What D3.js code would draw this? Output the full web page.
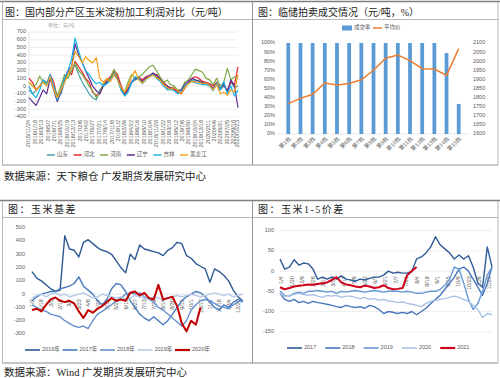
<!DOCTYPE html>
<html>
<head>
<meta charset="utf-8">
<title>玉米报告图表</title>
<script src="https://d3js.org/d3.v7.min.js"></script>
<style>
  body { margin: 0; background: #fff; }
  text { font-family: "Liberation Sans", "Noto Sans CJK SC", sans-serif; }
  .ttl { font-family: "Liberation Serif", "Noto Sans CJK SC", serif; fill: #222; }
  .tick { font-size: 5.5px; fill: #595959; }
</style>
</head>
<body>
<div id="chart"></div>
<script>
// ---------- top-left: 淀粉加工利润 ----------
const profitTicks = ["2015/11/24","2016/1/18","2016/3/13","2016/5/7","2016/7/1","2016/8/25","2016/10/19",
  "2016/12/13","2017/2/6","2017/4/2","2017/5/27","2017/7/21","2017/9/14","2017/11/8","2018/1/2","2018/2/26",
  "2018/4/22","2018/6/16","2018/8/10","2018/10/4","2018/11/28","2019/1/22","2019/3/18","2019/5/12","2019/7/6",
  "2019/8/30","2019/10/24","2019/12/18","2020/2/11","2020/4/6","2020/5/31","2020/7/25","2020/9/18","2020/10/23"];
const profitYTicks = [700,600,500,400,300,200,100,0,-100,-200,-300,-400];
const shandong = [-50,-100,-60,0,80,50,100,0,-150,-100,50,150,200,280,150,50,-20,-100,-150,-180,-50,0,50,100,180,100,-50,-120,-50,50,80,100,50,100,120,150,130,80,20,-30,-50,-30,-60,-80,0,30,80,60,80,50,30,0,-50,20,-50,0,-50,50,-20,0];
const hebei    = [100,50,-50,0,50,30,150,50,-150,-50,100,200,150,320,250,180,100,50,-80,-120,-100,20,80,120,200,150,0,-100,-30,60,100,120,80,120,140,160,150,100,50,0,-20,-40,-80,-100,-30,50,100,120,100,60,50,30,0,50,-30,30,-60,60,20,250];
const henan    = [50,0,20,130,50,30,100,0,-120,0,150,100,200,300,200,150,80,0,-60,-150,-80,30,50,100,220,100,-50,-80,50,150,100,120,150,200,250,270,200,120,50,80,20,0,-50,-50,50,80,150,220,200,180,100,80,20,100,0,50,230,80,120,100];
const liaoning = [-150,-200,-250,-150,-50,-100,100,-50,-200,-80,80,200,250,550,400,300,200,100,0,-60,-100,0,50,80,150,100,-20,-100,-50,50,100,100,60,110,130,170,140,90,30,0,-30,-20,-70,-50,20,60,100,80,60,40,40,20,-30,30,-40,20,-80,80,0,-280];
const jilin    = [0,-100,-150,-50,80,20,150,0,-180,-50,100,200,350,620,450,300,200,150,80,30,50,0,30,80,150,80,-50,-130,-80,50,120,100,30,80,120,150,100,60,0,-50,-40,-60,-100,-80,0,40,60,40,30,20,20,0,-60,40,-50,60,-100,0,-130,-50];
const heilong  = [50,0,-50,0,50,0,120,-50,-150,-50,50,150,250,450,380,300,380,330,300,370,100,50,100,60,150,80,-20,-80,0,120,200,80,40,90,120,140,110,80,20,-20,-40,-20,-60,-100,-20,30,60,50,50,30,40,10,-50,20,-100,-80,-120,-50,-80,150];
const profitNames = ["山东","河北","河南","辽宁","吉林","黑龙江"];

// ---------- top-right: 临储拍卖 ----------
const batches = ["第1批","第2批","第3批","第4批","第5批","第6批","第7批","第8批","第9批","第10批","第11批","第12批","第13批","第14批","第15批"];
const dealRate = [100,100,100,100,100,100,100,100,100,100,100,100,100,89,33];
const avgPrice = [1767,1796,1818,1880,1869,1878,1898,1950,2016,2034,2003,1959,1957,1922,2069];
const rateTicks = [0,10,20,30,40,50,60,70,80,90,100];
const priceTicks = [1600,1650,1700,1750,1800,1850,1900,1950,2000,2050,2100];

// ---------- bottom-left: 玉米基差 ----------
const basisTicks = ["1/2","1/18","2/3","2/19","3/7","3/23","4/8","4/24","5/10","5/26","6/11","6/27",
  "7/13","7/29","8/14","8/30","9/15","10/1","10/17","11/2","11/18","12/4","12/20"];
const basisYTicks = [500,400,300,200,100,0,-100,-200,-300];
const basis2016 = [170,120,100,70,40,20,30,440,340,330,280,390,410,380,350,330,320,300,250,200,160,300,260,370,340,330,320,310,290,330,350,390,380,290,270,230,210,190,90,190,170,140,100,30,-20,-50];
const basis2017 = [-50,-20,0,10,20,20,40,50,60,80,130,60,30,0,-50,-80,-40,40,80,70,20,-50,-100,-150,-180,-200,-170,-200,-230,-200,-150,-100,-50,-20,0,20,10,-20,-60,-100,-120,-80,-100,-60,-40,-60];
const basis2018 = [-80,-100,-120,-130,-150,-160,-170,-200,-220,-240,-250,-240,-260,-200,-150,-130,-100,-80,-50,-30,0,10,0,10,-20,-40,-60,-100,-120,-150,-180,-210,-240,-200,-120,-80,-50,-40,-50,-70,-90,-100,-110,-80,-60,-40];
const basis2019 = [-30,-10,0,-20,0,10,-10,0,-20,-10,0,10,-10,-30,-20,0,-10,-20,-30,-20,-40,-30,-10,-20,-30,-40,-20,-30,-40,-30,-20,-10,-20,-10,0,-10,-20,-10,0,10,0,-10,0,-20,-10,0];
const basis2020 = [-120,-110,-130,-80,-40,-25,-50,-60,-50,-70,-130,-180,-120,-140,-110,-90,-60,-30,-50,-40,-50,10,20,-10,10,-30,-40,70,-40,-30,-20,-90,-220,-280,-200,-230,-100];
const basisNames = ["2016年","2017年","2018年","2019年","2020年"];

// ---------- bottom-right: 玉米1-5价差 ----------
const spreadTicks = ["1/4","1/20","2/9","2/28","3/14","3/30","4/17","5/6","5/22","6/7","6/21",
  "7/7","7/21","8/4","8/18","9/1","9/15","10/9","10/23","11/6","11/20"];
const spreadYTicks = [100,50,0,-50,-100,-150];
const spread2017 = [30,5,10,28,15,20,18,5,-20,-15,-20,-15,-20,-12,-20,-22,-25,-20,-22,-18,-15,-15,-10,0,-5,-3,-5,-5,0,30,35,45,60,85,65,55,45,30,40,30,38,10,-30,-40,60,10];
const spread2018 = [-55,-70,-75,-70,-78,-75,-80,-75,-78,-80,-82,-85,-88,-90,-85,-88,-90,-88,-92,-85,-88,-95,-105,-100,-102,-105,-102,-105,-100,-108,-100,-92,-80,-70,-60,-45,-30,-15,5,10,0,-20,-40,-60,-30,10];
const spread2019 = [-50,-60,-62,-55,-52,-55,-50,-50,-48,-50,-52,-50,-55,-50,-52,-50,-48,-50,-52,-50,-48,-50,-52,-50,-50,-50,-52,-50,-52,-55,-55,-52,-50,-50,-45,-35,-20,10,5,-30,-70,-95,-80,-50,-10,10];
const spread2020 = [-55,-62,-60,-58,-55,-58,-60,-58,-62,-65,-60,-62,-60,-65,-62,-62,-65,-68,-65,-70,-68,-72,-70,-74,-75,-78,-76,-80,-82,-85,-88,-80,-75,-72,-70,-68,-65,-62,-65,-70,-75,-85,-95,-115,-105,-108];
const spread2021 = [-40,-45,-42,-38,-36,-35,-33,-34,-32,-30,-28,-22,-15,-28,-33,-35,-38,-40,-36,-38,-42,-40,-35,-42,-45,-44,-42,-10,0,10];
const spreadNames = ["2017","2018","2019","2020","2021"];

// ================= drawing =================
const svg = d3.select("#chart").append("svg")
  .attr("width", 500).attr("height", 378);
svg.append("rect").attr("width", 500).attr("height", 378).attr("fill", "#fff");

// panel frames
function hline(y, x1, x2, color, w) {
  svg.append("line").attr("x1", x1).attr("x2", x2).attr("y1", y).attr("y2", y)
    .attr("stroke", color).attr("stroke-width", w);
}
function vline(x, y1, y2, color, w) {
  svg.append("line").attr("x1", x).attr("x2", x).attr("y1", y1).attr("y2", y2)
    .attr("stroke", color).attr("stroke-width", w);
}
hline(1.5, 0, 500, "#7f7f7f", 1.6);
hline(19.5, 2, 498, "#a6a6a6", 0.8);
hline(165, 2, 498, "#8c8c8c", 0.9);
vline(2.5, 1.5, 165, "#a6a6a6", 0.8);
vline(252.5, 1.5, 165, "#8c8c8c", 0.9);
vline(498, 1.5, 165, "#a6a6a6", 0.8);

hline(200.5, 0, 500, "#7f7f7f", 1.6);
hline(217.5, 2, 498, "#a6a6a6", 0.8);
hline(363, 2, 498, "#7f7f7f", 0.9);
vline(2.5, 200.5, 363, "#a6a6a6", 0.8);
vline(252.5, 200.5, 363, "#8c8c8c", 0.9);
vline(498, 200.5, 363, "#a6a6a6", 0.8);

// titles and sources
svg.append("text").attr("class", "ttl").attr("x", 5).attr("y", 15.5).attr("font-size", 10)
  .text("图：国内部分产区玉米淀粉加工利润对比（元/吨）");
svg.append("text").attr("class", "ttl").attr("x", 258).attr("y", 15.5).attr("font-size", 10)
  .text("图：临储拍卖成交情况（元/吨，%）");
svg.append("text").attr("class", "ttl").attr("x", 4).attr("y", 180).attr("font-size", 10.5)
  .text("数据来源：天下粮仓 广发期货发展研究中心");
svg.append("text").attr("class", "ttl").attr("x", 8).attr("y", 213).attr("font-size", 10)
  .attr("letter-spacing", 1.5).text("图：玉米基差");
svg.append("text").attr("class", "ttl").attr("x", 258).attr("y", 213).attr("font-size", 10)
  .attr("letter-spacing", 1.5).text("图：玉米1-5价差");
svg.append("text").attr("class", "ttl").attr("x", 4).attr("y", 376).attr("font-size", 10.5)
  .text("数据来源：Wind 广发期货发展研究中心");

// helper: y tick labels (+ optional grid)
function yLabels(y, values, x, anchor, fmt, grid) {
  values.forEach(v => {
    if (grid) hline(y(v), grid[0], grid[1], "#e3e3e3", 0.6);
    svg.append("text").attr("class", "tick").attr("x", x).attr("y", y(v))
      .attr("text-anchor", anchor).attr("dominant-baseline", "middle").text(fmt(v));
  });
}
// helper: rotated x labels
function xLabels(positions, labels, y, angle) {
  labels.forEach((t, i) => {
    svg.append("text").attr("class", "tick")
      .attr("x", positions[i]).attr("y", y)
      .attr("text-anchor", "end").attr("dominant-baseline", "middle")
      .attr("transform", `rotate(${angle},${positions[i]},${y})`)
      .text(t);
  });
}
function legendItem(x, y, color, label, w, sw) {
  svg.append("line").attr("x1", x).attr("x2", x + w).attr("y1", y).attr("y2", y)
    .attr("stroke", color).attr("stroke-width", sw);
  svg.append("text").attr("class", "tick").attr("x", x + w + 2).attr("y", y)
    .attr("dominant-baseline", "middle").text(label);
}

// ---------- top-left chart ----------
{
  const parse = d3.timeParse("%Y/%m/%d");
  const start = parse("2015/11/24");
  const x = d3.scaleTime().domain([start, parse("2020/10/24")]).range([29, 238]);
  const y = d3.scaleLinear().domain([-400, 700]).range([117, 32]);
  yLabels(y, profitYTicks, 26, "end", d => d, [29, 238]);
  vline(29, 32, 117, "#d0d0d0", 0.6);
  xLabels(profitTicks.map(t => x(parse(t))), profitTicks, 120, -90);

  svg.append("text").attr("x", 48).attr("y", 26).attr("font-size", 5)
    .attr("fill", "#a0a0a0").attr("dominant-baseline", "middle").text("单位：元/吨");

  const colors = ["#45a0a8", "#e8262a", "#7faa45", "#5c2d91", "#18b3ea", "#f7a21b"];
  const series = [shandong, hebei, henan, liaoning, jilin, heilong];
  const line = d3.line()
    .x((d, i) => x(d3.timeMonth.offset(start, i)))
    .y(d => y(d));
  series.forEach((s, k) => {
    svg.append("path").datum(s).attr("d", line).attr("fill", "none")
      .attr("stroke", colors[k]).attr("stroke-width", 1.2).attr("stroke-linejoin", "round");
  });
  profitNames.forEach((n, k) => legendItem(47 + k * 26.6, 155, colors[k], n, 8, 1.5));
}

// ---------- top-right chart ----------
{
  const x = d3.scaleBand().domain(batches).range([278, 469]).padding(0.69);
  const yL = d3.scaleLinear().domain([0, 100]).range([134, 43]);
  const yR = d3.scaleLinear().domain([1600, 2100]).range([134, 43]);
  yLabels(yL, rateTicks, 275, "end", d => d + "%", null);
  yLabels(yR, priceTicks, 473, "start", d => d, null);
  hline(134, 278, 469, "#d9d9d9", 0.6);

  svg.append("g").selectAll("rect").data(batches).enter().append("rect")
    .attr("x", d => x(d)).attr("width", x.bandwidth())
    .attr("y", (d, i) => yL(dealRate[i]))
    .attr("height", (d, i) => yL(0) - yL(dealRate[i]))
    .attr("fill", "#5b9bd5");

  const line = d3.line()
    .x((d, i) => x(batches[i]) + x.bandwidth() / 2)
    .y(d => yR(d));
  svg.append("path").datum(avgPrice).attr("d", line).attr("fill", "none")
    .attr("stroke", "#ed7d31").attr("stroke-width", 1.5);

  xLabels(batches.map(b => x(b) + x.bandwidth() / 2 + 2), batches, 138, -45);

  svg.append("rect").attr("x", 342).attr("y", 25.5).attr("width", 10).attr("height", 5).attr("fill", "#5b9bd5");
  svg.append("text").attr("class", "tick").attr("x", 354).attr("y", 28).attr("dominant-baseline", "middle").text("成交率");
  legendItem(373, 28, "#ed7d31", "平均价", 9, 1.5);
}

// ---------- bottom-left chart ----------
{
  const parse = d3.timeParse("%Y/%m/%d");
  const jan1 = parse("2019/1/1");
  const x = d3.scaleTime().domain([jan1, parse("2019/12/31")]).range([32, 245]);
  const y = d3.scaleLinear().domain([-300, 500]).range([334, 227.7]);
  yLabels(y, basisYTicks, 25, "end", d => d, null);
  hline(y(0), 32, 245, "#d9d9d9", 0.6);
  xLabels(basisTicks.map(t => x(parse("2019/" + t))), basisTicks, y(0) + 5, -90);

  const colors = ["#2d5a94", "#4a7bbf", "#6592d0", "#b7cbe9", "#c00000"];
  const series = [basis2016, basis2017, basis2018, basis2019, basis2020];
  const line = d3.line()
    .x((d, i) => x(d3.timeDay.offset(jan1, i * 8)))
    .y(d => y(d));
  series.forEach((s, k) => {
    svg.append("path").datum(s).attr("d", line).attr("fill", "none")
      .attr("stroke", colors[k]).attr("stroke-width", k === 4 ? 2 : 1.4).attr("stroke-linejoin", "round");
  });
  basisNames.forEach((n, k) => legendItem(25 + k * 37.5, 350, colors[k], n, 15, k === 4 ? 2.2 : 1.6));
}

// ---------- bottom-right chart ----------
{
  const x = d3.scaleLinear().domain([0, 45]).range([280, 492]);
  const xt = d3.scalePoint().domain(spreadTicks).range([282, 490]);
  const y = d3.scaleLinear().domain([-150, 100]).range([331.7, 230.7]);
  yLabels(y, spreadYTicks, 274, "end", d => d, [280, 492]);
  xLabels(spreadTicks.map(t => xt(t)), spreadTicks, y(0) + 5, -90);

  const colors = ["#2e5b98", "#4675bd", "#6898d4", "#a9c1e4", "#d0021b"];
  const series = [spread2017, spread2018, spread2019, spread2020, spread2021];
  const line = d3.line().x((d, i) => x(i)).y(d => y(d));
  series.forEach((s, k) => {
    svg.append("path").datum(s).attr("d", line).attr("fill", "none")
      .attr("stroke", colors[k]).attr("stroke-width", k === 4 ? 2 : 1.4).attr("stroke-linejoin", "round");
  });
  spreadNames.forEach((n, k) => legendItem(287 + k * 38.3, 348, colors[k], n, 15, k === 4 ? 2.2 : 1.6));
}
</script>
</body>
</html>
